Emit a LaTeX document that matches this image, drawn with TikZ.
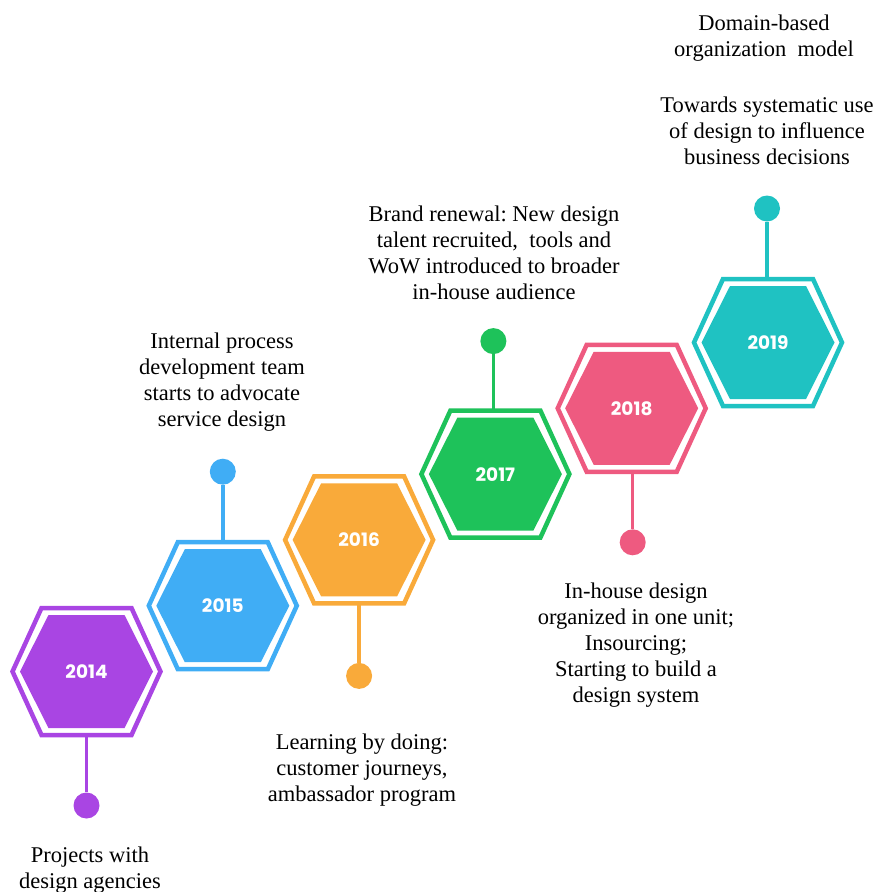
\documentclass[tikz,border=0pt]{standalone}
\usepackage{fontspec}
\setmainfont{Liberation Serif}
\newfontfamily\yearfont{Poppins}
\usetikzlibrary{calc}
\frenchspacing

\definecolor{cPurple}{HTML}{A945E3}
\definecolor{cBlue}{HTML}{40ADF5}
\definecolor{cOrange}{HTML}{F9AA3A}
\definecolor{cGreen}{HTML}{1EC25A}
\definecolor{cPink}{HTML}{EE5A80}
\definecolor{cTeal}{HTML}{1FC2C2}

\begin{document}
\begin{tikzpicture}[x=1pt, y=-1pt,
  note/.style={align=center, inner sep=0pt, anchor=north, text=black,
    font=\fontsize{22.5}{26}\selectfont},
  yearlbl/.style={text=white, inner sep=0pt,
    font=\yearfont\bfseries\fontsize{18.5}{20}\selectfont},
  stem/.style={line width=3.5pt},
  dot/.style={circle, fill, inner sep=0pt, minimum size=26pt},
  pics/hexring/.style={code={
    % outer outline with white gap, then the filled inner hexagon
    \draw[#1, fill=white, line width=4.5pt, line join=miter]
      (-74,0) -- (-45,-63.5) -- (45,-63.5) -- (74,0) -- (45,63.5) -- (-45,63.5) -- cycle;
    \fill[#1]
      (-66.5,0) -- (-38,-56.5) -- (38,-56.5) -- (66.5,0) -- (38,56.5) -- (-38,56.5) -- cycle;
  }}
]
\useasboundingbox (0,0) rectangle (875,892);

% hexagon centres along the rising diagonal
\coordinate (h2014) at (86.5,671.5);
\coordinate (h2015) at (222.8,605.7);
\coordinate (h2016) at (359.1,539.9);
\coordinate (h2017) at (495.4,474.1);
\coordinate (h2018) at (631.7,408.3);
\coordinate (h2019) at (768.0,342.5);

% end dots of the stems
\node[dot, cPurple] (d2014) at (86.5,805.5) {};
\node[dot, cBlue]   (d2015) at (222.8,471.7) {};
\node[dot, cOrange] (d2016) at (359.1,675.9) {};
\node[dot, cGreen]  (d2017) at (493.4,341.1) {};
\node[dot, cPink]   (d2018) at (632.7,542.3) {};
\node[dot, cTeal]   (d2019) at (767.0,208.5) {};

% stems (the hexagons drawn afterwards hide the inner part)
\draw[stem, cPurple] (d2014) -- (h2014);
\draw[stem, cBlue]   (d2015) -- (h2015);
\draw[stem, cOrange] (d2016) -- (h2016);
\draw[stem, cGreen]  (d2017) -- (d2017 |- h2017);
\draw[stem, cPink]   (d2018) -- (d2018 |- h2018);
\draw[stem, cTeal]   (d2019) -- (d2019 |- h2019);

% hexagons with their years
\pic at (h2014) {hexring=cPurple};
\pic at (h2015) {hexring=cBlue};
\pic at (h2016) {hexring=cOrange};
\pic at (h2017) {hexring=cGreen};
\pic at (h2018) {hexring=cPink};
\pic at (h2019) {hexring=cTeal};

\node[yearlbl] (y2014) at (h2014) {2014};
\node[yearlbl] (y2015) at (h2015) {2015};
\node[yearlbl] (y2016) at (h2016) {2016};
\node[yearlbl] (y2017) at (h2017) {2017};
\node[yearlbl] (y2018) at (h2018) {2018};
\node[yearlbl] (y2019) at (h2019) {2019};

% milestone descriptions
\node[note] (t2014) at (90,846.5) {Projects with\\design agencies};
\node[note] (t2015) at (222,332.5) {Internal process\\development team\\starts to advocate\\service design};
\node[note] (t2016) at (362,733.5) {Learning by doing:\\customer journeys,\\ambassador program};
\node[note] (t2017) at (494,205.5) {Brand renewal: New design\\talent recruited,\ \ tools and\\WoW introduced to broader\\in-house audience};
\node[note] (t2018) at (636,582.5) {In-house design\\organized in one unit;\\Insourcing;\\Starting to build a\\design system};
\node[note] (t2019a) at (764,14.5) {Domain-based\\organization\ \ model};
\node[note] (t2019b) at (767,96.5) {Towards systematic use\\of design to influence\\business decisions};
\end{tikzpicture}
\end{document}
